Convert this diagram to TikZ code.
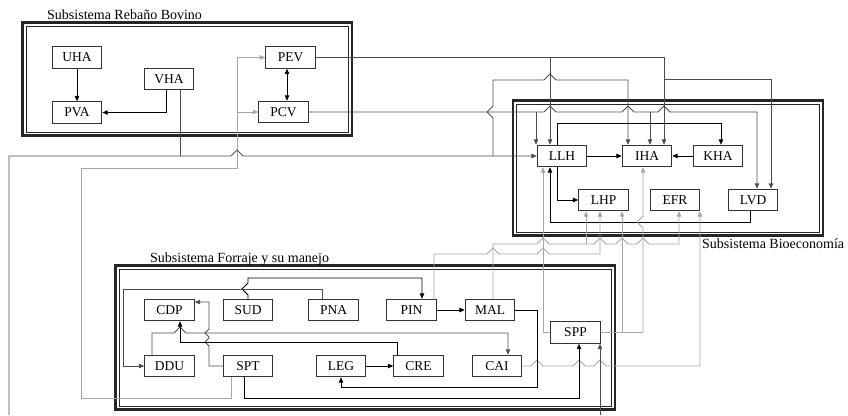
\documentclass[tikz,border=0pt]{standalone}
\usepackage{fontspec}
\setmainfont{Liberation Serif}
\usetikzlibrary{arrows.meta}
\definecolor{LineDark}{HTML}{4D4D4D}
\definecolor{LineGray}{HTML}{A6A6A6}
\definecolor{BoxInk}{HTML}{333333}
% line hops: horizontal line going right, vertical line going up
\newcommand{\hopR}[2]{-- (#1-6,#2) -- (#1,#2-6) -- (#1+6,#2)}
\newcommand{\hopU}[2]{-- (#1,#2+6) -- (#1-6,#2) -- (#1,#2-6)}
% double frame of a subsystem
\newcommand{\subframe}[4]{%
  \draw[black!85,line width=2.4pt] (#1,#2) rectangle (#3,#4);
  \draw[black!85,line width=0.8pt] (#1+3.5,#2+3.5) rectangle (#3-3.5,#4-3.5);}

\begin{document}
\begin{tikzpicture}[x=1pt,y=-1pt,>={Triangle[length=5.5pt,width=4.5pt]},
  blk/.style={draw=BoxInk,line width=0.9pt,minimum width=49.5pt,
    minimum height=21.5pt,inner sep=0pt,font=\fontsize{13.5}{15}\selectfont},
  ttl/.style={anchor=base west,inner sep=0pt,font=\fontsize{14}{16}\selectfont},
  blkline/.style={line width=0.95pt,black},
  drkline/.style={line width=0.95pt,LineDark},
  gryline/.style={line width=0.95pt,LineGray}]
  \fill[white] (0,0) rectangle (848,415);
  \useasboundingbox (0,0) rectangle (848,415);

  % frames and titles
  \subframe{22.5}{22.5}{352}{135.5}
  \subframe{513}{100.5}{823}{235.5}
  \subframe{115.5}{265.5}{615}{409.5}
  \node[ttl] (tRB) at (47,19) {Subsistema Rebaño Bovino};
  \node[ttl] (tBE) at (702,248) {Subsistema Bioeconomía};
  \node[ttl] (tFM) at (150,262) {Subsistema Forraje y su manejo};

  % variables
  \foreach \n/\x/\y in {UHA/77/57.5,PVA/77/112.5,VHA/169/79,PEV/290.5/57.5,PCV/283.5/112,
                        LLH/562/156,IHA/647/156,KHA/718/156,LHP/603.5/200,EFR/675/200,LVD/753/200,
                        CDP/169.5/310,SUD/248/310,PNA/333.5/310,PIN/411.5/310,MAL/490/310,
                        DDU/169.5/366,SPT/248/366,LEG/341/366,CRE/418.5/366,CAI/497/366,
                        SPP/575.5/332.5}
    \node[blk] (\n) at (\x,\y) {\n};
  \coordinate (offW) at (9,415);
  \coordinate (offS) at (600,415);

  % rebano bovino
  \draw[blkline,->] (UHA) -- (PVA);
  \draw[blkline,->] ([xshift=-3pt]VHA.south) |- (PVA.east);
  \draw[blkline,<->] ([xshift=-3.5pt]PEV.south) -- ([xshift=3.5pt]PCV.north);

  % feedback from SPT into the herd
  \draw[gryline,->] ([xshift=-17pt]SPT.south) -- (231,398) -- (81,398) -- (81,168)
       -- (237,168) -- (237,57.5) -- (PEV.west);
  \draw[gryline,->] (237,112) -- (PCV.west);

  % VHA towards LLH and IHA
  \draw[drkline] ([xshift=11pt]VHA.south) -- (180,156);
  \draw[drkline,->] (offW) -- (9,156) -- (180,156) \hopR{237}{156} -- (LLH.west);
  \draw[drkline,->] (493,156) \hopU{493}{112} -- (493,80) \hopR{550}{80} -- (628,80)
       -- ([xshift=-19pt]IHA.north);

  % PEV and PCV towards bioeconomy
  \draw[drkline,->] (PEV.east) -- (664,57.5) -- ([xshift=17pt]IHA.north);
  \draw[drkline,->] (550,57.5) -- ([xshift=-12pt]LLH.north);
  \draw[drkline,->] (664,79) -- (771,79) -- ([xshift=18pt]LVD.north);
  \draw[drkline,->] (PCV.east) \hopR{550}{112} \hopR{628}{112} \hopR{664}{112}
       -- (757,112) -- ([xshift=4pt]LVD.north);
  \draw[drkline,->] (536,112) -- ([xshift=-26pt]LLH.north);
  \draw[drkline,->] (650,112) -- ([xshift=3pt]IHA.north);

  % bioeconomia
  \draw[blkline,->] (LLH) -- (IHA);
  \draw[blkline,->] (KHA) -- (IHA);
  \draw[blkline,->] ([xshift=-5pt]LLH.north) -- (557,123) -- (721,123) -- ([xshift=3pt]KHA.north);
  \draw[blkline,->] ([xshift=-5pt]LLH.south) |- (LHP.west);
  \draw[blkline,->] ([xshift=-3pt]LVD.south) -- (750,222) -- (550,222) -- ([xshift=-12pt]LLH.south);

  % forage outputs towards bioeconomy
  \draw[gryline,->] (SPP.west) -- (543,332.5) -- ([xshift=-19pt]LLH.south);
  \draw[gryline,->] ([xshift=22.5pt]PIN.north) -- (434,254) \hopR{493}{254} \hopR{543}{254}
       -- (600,254) -- ([xshift=-3.5pt]LHP.south);
  \draw[gryline,->] ([xshift=3pt]MAL.north) -- (493,244) \hopR{543}{244} -- (586,244)
       \hopR{600}{244} \hopR{622}{244} \hopR{643}{244} -- (679,244) -- ([xshift=4pt]EFR.south);
  \draw[gryline,->] (586,244) -- ([xshift=-17.5pt]LHP.south);
  \draw[gryline,->] (SPP.east) -- (643,332.5) \hopU{643}{222} -- ([xshift=-4pt]IHA.south);
  \draw[gryline,->] (622,332.5) -- ([xshift=18.5pt]LHP.south);
  \draw[gryline,->] (CAI.east) \hopR{537}{366} \hopR{579}{366} \hopR{600}{366}
       -- (700,366) -- ([xshift=25pt]EFR.south);

  % forraje y su manejo
  \draw[blkline,->] (SUD.north) \hopU{248}{289} -- (248,278) -- (422,278) -- ([xshift=10.5pt]PIN.north);
  \draw[drkline,->] ([xshift=-11.5pt]PNA.north) -- (322,289) -- (123,289) |- (DDU.west);
  \draw[drkline,->] (SPT.west) -- (209,366) -- (209,346) -- (205,342) -- (209,338) -- (209,337)
       -- (205,333) -- (209,329) -- (209,302) -- ([yshift=8pt]CDP.east);
  \draw[drkline,->] ([xshift=-17.5pt]DDU.north) -- (152,333) \hopR{180}{333} -- (508,333)
       -- ([xshift=11pt]CAI.north);
  \draw[blkline,->] ([xshift=-21.5pt]CRE.north) -- (397,342) -- (180,342) -- ([xshift=10.5pt]CDP.south);
  \draw[blkline,->] (PIN) -- (MAL);
  \draw[blkline,->] (LEG) -- (CRE);
  \draw[blkline,->] (MAL.east) -- (537,310) -- (537,387) -- (341,387) -- (LEG.south);
  \draw[blkline,->] ([xshift=-4pt]SPT.south) -- (244,398) -- (579,398) -- ([xshift=3.5pt]SPP.south);
  \draw[drkline,->] (offS) -- ([xshift=24.5pt]SPP.south);
\end{tikzpicture}
\end{document}
